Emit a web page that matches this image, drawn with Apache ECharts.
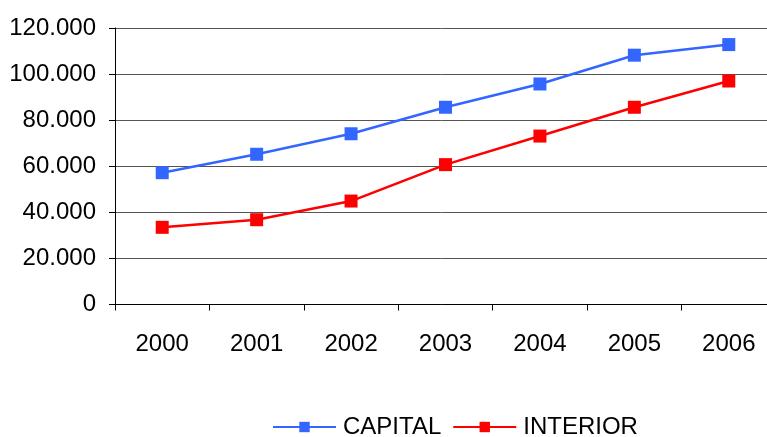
<!DOCTYPE html>
<html>
<head>
<meta charset="utf-8">
<script src="https://cdn.jsdelivr.net/npm/echarts@6/dist/echarts.min.js"></script>
<style>
html,body{margin:0;padding:0;background:#fff;}
#chart{width:767px;height:437px;}
</style>
</head>
<body>
<div id="chart"></div>
<script>
var categories = ['2000', '2001', '2002', '2003', '2004', '2005', '2006'];
var capital = [57200, 65200, 74100, 85600, 95700, 108200, 112800];
var interior = [33500, 36800, 44900, 60700, 73100, 85600, 97000];
var yTicks = { min: 0, max: 120000, interval: 20000 };

var FONT = '"Liberation Sans", Arial, sans-serif';
var FS = 24;
function fmt(v) {
  if (v === 0) return '0';
  return String(v).replace(/\B(?=(\d{3})+(?!\d))/g, '.');
}

var chart = echarts.init(document.getElementById('chart'), null, { renderer: 'canvas' });
chart.setOption({
  animation: false,
  backgroundColor: '#ffffff',
  grid: { left: 115, right: -9, top: 28, bottom: 132.5, containLabel: false, outerBoundsMode: 'none' },
  legend: {
    data: ['CAPITAL', 'INTERIOR'],
    left: 272,
    top: 415,
    padding: 0,
    itemWidth: 63,
    itemHeight: 13,
    itemGap: 11,
    textStyle: { fontFamily: FONT, fontSize: FS, color: '#000', padding: [0, 0, 0, 2] }
  },
  xAxis: {
    type: 'category',
    data: categories,
    boundaryGap: true,
    axisLine: { show: true, lineStyle: { color: '#000', width: 1 } },
    axisTick: { show: true, length: 6, alignWithLabel: false, lineStyle: { color: '#000' } },
    axisLabel: { fontFamily: FONT, fontSize: FS, color: '#000', margin: 28 },
    splitLine: { show: false }
  },
  yAxis: {
    type: 'value',
    min: yTicks.min,
    max: yTicks.max,
    interval: yTicks.interval,
    axisLine: { show: true, lineStyle: { color: '#000', width: 1 } },
    axisTick: { show: true, length: 6, inside: false, lineStyle: { color: '#000' } },
    axisLabel: { fontFamily: FONT, fontSize: FS, color: '#000', margin: 19, formatter: fmt },
    splitLine: { show: true, lineStyle: { color: '#555', width: 1 } }
  },
  series: [
    {
      name: 'CAPITAL',
      type: 'line',
      data: capital,
      symbol: 'rect',
      symbolSize: 13,
      lineStyle: { color: '#3366ff', width: 2.5 },
      itemStyle: { color: '#3366ff' }
    },
    {
      name: 'INTERIOR',
      type: 'line',
      data: interior,
      symbol: 'rect',
      symbolSize: 13,
      lineStyle: { color: '#ff0000', width: 2.5 },
      itemStyle: { color: '#ff0000' }
    }
  ]
});
</script>
</body>
</html>
